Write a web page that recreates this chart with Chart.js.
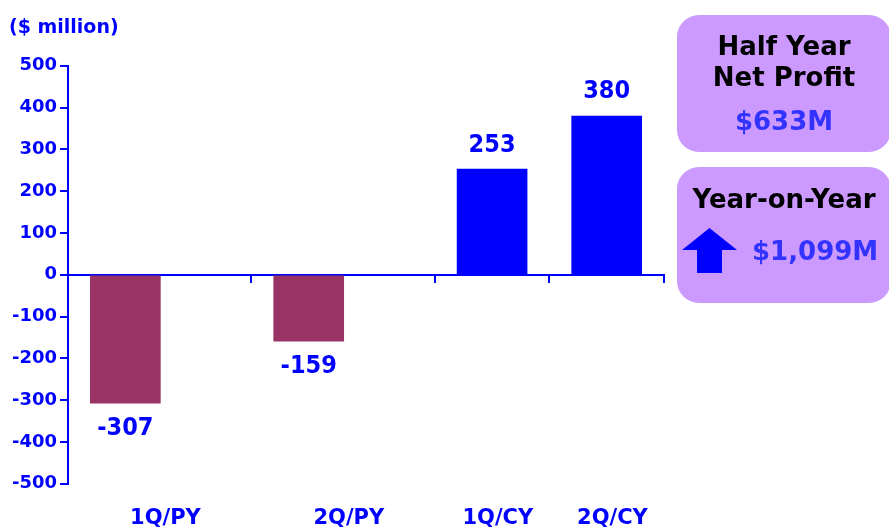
<!DOCTYPE html>
<html>
<head>
<meta charset="utf-8">
<script src="https://cdn.jsdelivr.net/npm/chart.js@4.4.0/dist/chart.umd.min.js"></script>
<style>
	html, body { margin: 0; padding: 0; background: #ffffff; }
	#lienzo { position: relative; width: 889px; height: 527px; overflow: hidden; font-family: "DejaVu Sans", sans-serif; font-weight: bold; }
	#grafica { position: absolute; left: 0; top: 0; }
	.caja { position: absolute; left: 677px; width: 214px; background: #cc99ff; border-radius: 22px; }
	.linea { position: absolute; left: 0; right: 0; height: 30px; line-height: 30px; text-align: center; font-size: 26px; color: #000000; white-space: nowrap; }
	.importe { color: #3333ff; }
</style>
</head>
<body>
<div id="lienzo">
	<!-- el lienzo es algo mas alto que la ventana: el eje inferior reserva espacio de sobra -->
	<canvas id="grafica" width="889" height="553"></canvas>

	<div class="caja" style="top:15px; height:137px;">
		<div class="linea" style="top:16px;">Half Year</div>
		<div class="linea" style="top:47px;">Net Profit</div>
		<div class="linea importe" style="top:91px;">$633M</div>
	</div>

	<div class="caja" style="top:167px; height:136px;">
		<div class="linea" style="top:17px;">Year-on-Year</div>
		<svg style="position:absolute; left:5px; top:61px;" width="56" height="46">
			<polygon points="0,22 27.5,0 55,22 40,22 40,45 15,45 15,22" fill="#0000ff"/>
		</svg>
		<div class="linea importe" style="top:69px; left:75px; text-align:left;">$1,099M</div>
	</div>
</div>

<script>
// Datos de la grafica ($ million)
const categories = ['1Q/PY', '2Q/PY', '1Q/CY', '2Q/CY'];
const netProfit = [-307, -159, 253, 380];
const yTicks = [-500, -400, -300, -200, -100, 0, 100, 200, 300, 400, 500];

// Reparto horizontal del original (no uniforme): el eje se divide en 52 huecos iguales
const slotCount = 52;
const barSlot = [5, 21, 37, 47];     // posicion de cada barra (sobre los limites de hueco)
const labelSlot = [8, 24, 37, 47];   // hueco de cada etiqueta del eje X
const tickSlot = [16, 32, 42, 52];   // marcas del eje X

const AZUL = '#0000ff';
const GRANATE = '#993366';

// eje de las barras: slotCount + 1 posiciones, sin desplazamiento
const barLabels = new Array(slotCount + 1).fill('');
const slotValues = new Array(slotCount + 1).fill(null);
barSlot.forEach(function (s, i) { slotValues[s] = netProfit[i]; });

// eje de las etiquetas: slotCount huecos centrados
const slotLabels = new Array(slotCount).fill('');
labelSlot.forEach(function (s, i) { slotLabels[s] = categories[i]; });

// Valores encima / debajo de cada barra
const etiquetasValor = {
	id: 'etiquetasValor',
	afterDatasetsDraw: function (chart) {
		const ctx = chart.ctx;
		const meta = chart.getDatasetMeta(0);
		const datos = chart.data.datasets[0].data;
		ctx.save();
		ctx.font = 'bold 25px "DejaVu Sans Condensed", "DejaVu Sans"';
		ctx.fillStyle = AZUL;
		ctx.textAlign = 'center';
		ctx.textBaseline = 'middle';
		meta.data.forEach(function (barra, i) {
			const v = datos[i];
			if (v === null) return;
			const dy = v < 0 ? 25 : -24;
			ctx.fillText(String(v), barra.x, barra.y + dy);
		});
		ctx.restore();
	}
};

const config = {
	type: 'bar',
	data: {
		labels: barLabels,
		datasets: [{
			data: slotValues,
			xAxisID: 'x',
			backgroundColor: function (c) { return c.raw < 0 ? GRANATE : AZUL; },
			barThickness: 70
		}]
	},
	options: {
		responsive: false,
		animation: false,
		layout: { padding: { left: 9, right: 225, top: 0, bottom: 0 } },
		plugins: {
			legend: { display: false },
			tooltip: { enabled: false },
			title: {
				display: true,
				text: '($ million)',
				align: 'start',
				color: AZUL,
				font: { family: 'DejaVu Sans', size: 19, weight: 'bold' },
				padding: { top: 17, bottom: 26 }
			}
		},
		scales: {
			x: {
				type: 'category',
				labels: barLabels,
				position: { y: 0 },
				offset: false,
				ticks: { display: false, autoSkip: false },
				grid: {
					offset: false,
					drawOnChartArea: false,
					drawTicks: true,
					tickLength: 7,
					lineWidth: 2,
					color: function (c) {
						return tickSlot.indexOf(c.index) !== -1 ? AZUL : 'rgba(0,0,0,0)';
					}
				},
				border: { color: AZUL, width: 2 }
			},
			x2: {
				type: 'category',
				labels: slotLabels,
				position: 'bottom',
				offset: true,
				grid: { display: false, drawTicks: false },
				border: { display: false },
				ticks: {
					autoSkip: false,
					maxRotation: 0,
					padding: 22,
					color: AZUL,
					font: { family: 'DejaVu Sans', size: 21, weight: 'bold' }
				}
			},
			y: {
				min: yTicks[0],
				max: yTicks[yTicks.length - 1],
				afterBuildTicks: function (eje) {
					eje.ticks = yTicks.map(function (v) { return { value: v }; });
				},
				ticks: {
					color: AZUL,
					padding: 3,
					font: { family: 'DejaVu Sans', size: 18, weight: 'bold' }
				},
				grid: { drawOnChartArea: false, tickLength: 8, lineWidth: 2, color: AZUL },
				border: { color: AZUL, width: 2 }
			}
		}
	},
	plugins: [etiquetasValor]
};

const grafica = new Chart(document.getElementById('grafica'), config);
</script>
</body>
</html>
